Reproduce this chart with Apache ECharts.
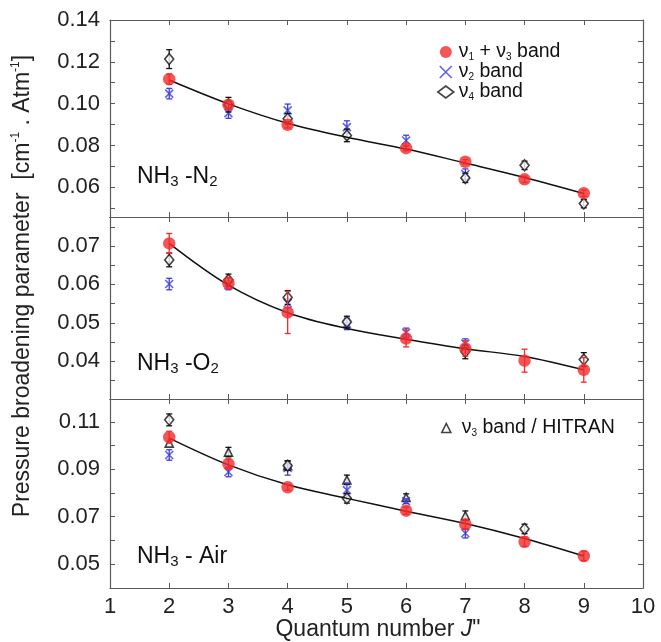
<!DOCTYPE html>
<html><head><meta charset="utf-8">
<script src="https://cdn.jsdelivr.net/npm/echarts@6/dist/echarts.min.js"></script>
<style>html,body{margin:0;padding:0;background:#fff}#c{width:661px;height:642px}</style>
</head><body><div id="c"></div>
<script>
const J = [2, 3, 4, 5, 6, 7, 8, 9];

// NH3-N2
const redN2 = [0.1117, 0.0995, 0.0899, null, 0.0787, 0.0722, 0.0638, 0.0572];
const redN2Err = [0.0025, 0.0018, 0.0015, null, 0.0012, 0.001, 0.0015, 0.0015];
const blueN2 = [0.1048, 0.0955, 0.0968, 0.0888, 0.0824, 0.0663, null, null];
const blueN2Err = [0.0025, 0.0025, 0.003, 0.003, 0.0025, 0.0025, null, null];
const diamN2 = [0.1213, 0.0995, 0.0928, 0.0848, null, 0.0645, 0.0705, 0.0522];
const diamN2Err = [0.0045, 0.0035, 0.0025, 0.003, null, 0.0022, 0.002, 0.002];
const fitN2 = [0.1113, 0.0999, 0.0906, 0.0839, 0.0783, 0.0716, 0.0647, 0.0570];

// NH3-O2
const redO2 = [0.0707, 0.0603, 0.0527, null, 0.0459, 0.0433, 0.0401, 0.0377];
const redO2Err = [0.0026, 0.0015, 0.0055, null, 0.0022, 0.002, 0.003, 0.0032];
const blueO2 = [0.0601, 0.0598, 0.0551, 0.0497, 0.0474, 0.0446, null, null];
const blueO2Err = [0.0015, 0.0012, 0.0012, 0.0015, 0.0012, 0.0012, null, null];
const diamO2 = [0.0664, 0.0612, 0.0566, 0.0502, null, 0.0424, null, 0.0404];
const diamO2Err = [0.0018, 0.0015, 0.0018, 0.0015, null, 0.0018, null, 0.0018];
const fitO2 = [0.0707, 0.0598, 0.0526, 0.0485, 0.0457, 0.0432, 0.0412, 0.0377];

// NH3-Air
const redAir = [0.1035, 0.0922, 0.0824, null, 0.0725, 0.0667, 0.0594, 0.0534];
const redAirErr = [0.0025, 0.002, 0.0012, null, 0.0015, 0.002, 0.002, 0.002];
const blueAir = [0.096, 0.0888, 0.0905, 0.0812, 0.0765, 0.063, null, null];
const blueAirErr = [0.0022, 0.002, 0.003, 0.003, 0.001, 0.002, null, null];
const diamAir = [0.1108, null, 0.0915, 0.0777, null, null, 0.0648, null];
const diamAirErr = [0.0025, null, 0.002, 0.002, null, null, 0.002, null];
const triAir = [0.101, 0.0972, 0.0915, 0.0855, 0.0781, 0.0704, null, null];
const triAirErr = [null, 0.002, 0.002, 0.002, 0.0015, 0.002, null, null];
const fitAir = [0.1031, 0.0918, 0.0834, 0.0777, 0.0723, 0.0671, 0.0608, 0.0534];

// axis ranges and ticks
const yRanges = [[0.0458, 0.14], [0.0301, 0.0776], [0.0399, 0.1196]];
const yLabels = [[0.06, 0.08, 0.10, 0.12, 0.14], [0.04, 0.05, 0.06, 0.07], [0.05, 0.07, 0.09, 0.11]];
const yTicks = [[0.05, 0.06, 0.07, 0.08, 0.09, 0.10, 0.11, 0.12, 0.13],
                [0.035, 0.04, 0.045, 0.05, 0.055, 0.06, 0.065, 0.07, 0.075],
                [0.05, 0.06, 0.07, 0.08, 0.09, 0.10, 0.11]];
const panelNames = ['{m|NH}{s|3}{m| -N}{s|2}', '{m|NH}{s|3}{m| -O}{s|2}', '{m|NH}{s|3}{m| - Air}'];

const RED = '#f22a2a', BLUE = '#3b3be0', BLACK = '#111';
const XPATH = 'path://M0,0L10,10M10,0L0,10';
const FONT = 'Liberation Sans, Arial, sans-serif';
const AX = '#5a5a5a';

const panels = [
  {red: redN2, redE: redN2Err, blue: blueN2, blueE: blueN2Err, diam: diamN2, diamE: diamN2Err, fit: fitN2},
  {red: redO2, redE: redO2Err, blue: blueO2, blueE: blueO2Err, diam: diamO2, diamE: diamO2Err, fit: fitO2},
  {red: redAir, redE: redAirErr, blue: blueAir, blueE: blueAirErr, diam: diamAir, diamE: diamAirErr, fit: fitAir, tri: triAir, triE: triAirErr}
];

const grids = [
  {left: 110, right: 18, top: 20, height: 197},
  {left: 110, right: 18, top: 217, height: 182},
  {left: 110, right: 18, top: 399, height: 189}
];

function pts(vals) { const o = []; vals.forEach((v, i) => { if (v != null) o.push([J[i], v]); }); return o; }
function errs(vals, e) { const o = []; vals.forEach((v, i) => { if (v != null && e[i] != null) o.push([J[i], v - e[i], v + e[i]]); }); return o; }
function errRender(color, lw) {
  return function (params, api) {
    const x = api.value(0), lo = api.value(1), hi = api.value(2);
    const a = api.coord([x, hi]), b = api.coord([x, lo]);
    const w = 3, st = {stroke: color, lineWidth: lw};
    return {type: 'group', children: [
      {type: 'line', shape: {x1: a[0], y1: a[1], x2: b[0], y2: b[1]}, style: st},
      {type: 'line', shape: {x1: a[0] - w, y1: a[1], x2: a[0] + w, y2: a[1]}, style: st},
      {type: 'line', shape: {x1: b[0] - w, y1: b[1], x2: b[0] + w, y2: b[1]}, style: st}
    ]};
  };
}

const xAxis = [], yAxis = [], series = [];
grids.forEach((g, gi) => {
  const last = gi === 2;
  ['bottom', 'top'].forEach((pos) => {
    xAxis.push({
      type: 'value', gridIndex: gi, position: pos, min: 1, max: 10, interval: 1,
      axisLine: {show: true, onZero: false, lineStyle: {color: AX, width: 1.2}},
      axisTick: {show: true, inside: true, length: 5, lineStyle: {color: AX}},
      axisLabel: {show: last && pos === 'bottom', fontSize: 22, color: '#222', fontFamily: FONT, margin: 8},
      splitLine: {show: false}
    });
  });
  ['left', 'right'].forEach((pos) => {
    yAxis.push({
      type: 'value', gridIndex: gi, position: pos, min: yRanges[gi][0], max: yRanges[gi][1],
      axisLine: {show: true, onZero: false, lineStyle: {color: AX, width: 1.2}},
      axisTick: {show: true, inside: true, length: 5, lineStyle: {color: AX}, customValues: yTicks[gi]},
      axisLabel: {show: pos === 'left', customValues: yLabels[gi], formatter: v => v.toFixed(2), fontSize: 22, color: '#222', fontFamily: FONT, margin: 10},
      splitLine: {show: false}
    });
  });
  const P = panels[gi];
  const xi = gi * 2, yi = gi * 2;
  if (P.tri) {
    series.push({type: 'custom', name: 'e3', xAxisIndex: xi, yAxisIndex: yi, renderItem: errRender(BLACK, 1.3), data: errs(P.tri, P.triE), z: 2, silent: true});
    series.push({type: 'scatter', name: 'n3', xAxisIndex: xi, yAxisIndex: yi, data: pts(P.tri), symbol: 'triangle', symbolSize: 8, itemStyle: {color: '#fff', borderColor: BLACK, borderWidth: 1.6}, z: 3});
  }
  series.push({type: 'custom', name: 'e2', xAxisIndex: xi, yAxisIndex: yi, renderItem: errRender(BLUE, 1.3), data: errs(P.blue, P.blueE), z: 4, silent: true});
  series.push({type: 'scatter', name: 'n2', xAxisIndex: xi, yAxisIndex: yi, data: pts(P.blue), symbol: XPATH, symbolSize: 8, itemStyle: {color: 'rgba(0,0,0,0)', borderColor: BLUE, borderWidth: 1.6}, z: 5});
  series.push({type: 'custom', name: 'e4', xAxisIndex: xi, yAxisIndex: yi, renderItem: errRender(BLACK, 1.3), data: errs(P.diam, P.diamE), z: 6, silent: true});
  series.push({type: 'scatter', name: 'n4', xAxisIndex: xi, yAxisIndex: yi, data: pts(P.diam), symbol: 'diamond', symbolSize: [9, 11], itemStyle: {color: '#fff', borderColor: BLACK, borderWidth: 1.6}, z: 7});
  series.push({type: 'line', name: 'fit', xAxisIndex: xi, yAxisIndex: yi, data: pts(P.fit), smooth: 0.35, showSymbol: false, lineStyle: {color: BLACK, width: 1.5}, z: 8, silent: true});
  series.push({type: 'custom', name: 'e13', xAxisIndex: xi, yAxisIndex: yi, renderItem: errRender(RED, 1.3), data: errs(P.red, P.redE), z: 9, silent: true});
  series.push({type: 'scatter', name: 'n13', xAxisIndex: xi, yAxisIndex: yi, data: pts(P.red), symbol: 'circle', symbolSize: 12.5, itemStyle: {color: RED}, z: 10});
});

const legendText = {
  n13: '{m|ν}{s|1}{m| + ν}{s|3}{m| band}',
  n2: '{m|ν}{s|2}{m| band}',
  n4: '{m|ν}{s|4}{m| band}',
  n3: '{m|ν}{s|3}{m| band / HITRAN}'
};
const rich = {
  m: {fontSize: 19.5, lineHeight: 20, color: '#111', fontFamily: FONT},
  s: {fontSize: 10, lineHeight: 10, verticalAlign: 'bottom', color: '#111', fontFamily: FONT}
};
const rich2 = {
  m: {fontSize: 19.5, lineHeight: 20, color: '#111', fontFamily: FONT},
  s: {fontSize: 10, lineHeight: 10, verticalAlign: 'bottom', color: '#111', fontFamily: FONT},
  p: {width: 6}
};

const option = {
  animation: false,
  backgroundColor: '#fff',
  grid: grids,
  xAxis, yAxis, series,
  legend: [
    {orient: 'vertical', left: 437, top: 42, itemGap: 0, itemWidth: 16, itemHeight: 12, selectedMode: false, padding: 0,
     formatter: n => legendText[n], textStyle: {rich},
     data: [
       {name: 'n13', icon: 'circle', itemStyle: {color: RED}},
       {name: 'n2', icon: XPATH, itemStyle: {color: 'rgba(0,0,0,0)', borderColor: BLUE, borderWidth: 1.6}},
       {name: 'n4', icon: 'diamond', itemStyle: {color: '#fff', borderColor: BLACK, borderWidth: 1.6}}
     ]},
    {orient: 'vertical', left: 441, top: 418, itemWidth: 9, itemHeight: 9, selectedMode: false, padding: 0,
     formatter: n => '{p|}' + legendText[n], textStyle: {rich: rich2},
     data: [{name: 'n3', icon: 'triangle', itemStyle: {color: '#fff', borderColor: BLACK, borderWidth: 1.6}}]}
  ],
  graphic: [
    ...panelNames.map((t, i) => ({
      type: 'text', left: 137, top: [165, 352, 545][i],
      style: {text: t, rich: {
        m: {fontSize: 23, lineHeight: 26, fill: '#111', fontFamily: FONT},
        s: {fontSize: 15, lineHeight: 13, verticalAlign: 'bottom', fill: '#111', fontFamily: FONT}
      }}
    })),
    {type: 'text', x: 378, y: 630, style: {text: '{m|Quantum number }{i|J}{m|"}', align: 'center', verticalAlign: 'middle',
      rich: {m: {fontSize: 23, fill: '#222', fontFamily: FONT}, i: {fontSize: 23, fontStyle: 'italic', fill: '#222', fontFamily: FONT}}}},
    {type: 'text', x: 23, y: 286, rotation: Math.PI / 2, style: {
      text: '{m|Pressure broadening parameter  [cm}{p|-1}{m| . Atm}{p|-1}{m|]}', align: 'center', verticalAlign: 'middle',
      rich: {m: {fontSize: 23, lineHeight: 26, fill: '#222', fontFamily: FONT},
             p: {fontSize: 12, lineHeight: 12, verticalAlign: 'top', fill: '#222', fontFamily: FONT}}}}
  ]
};
echarts.init(document.getElementById('c'), null, {renderer: 'canvas'}).setOption(option);
</script></body></html>
